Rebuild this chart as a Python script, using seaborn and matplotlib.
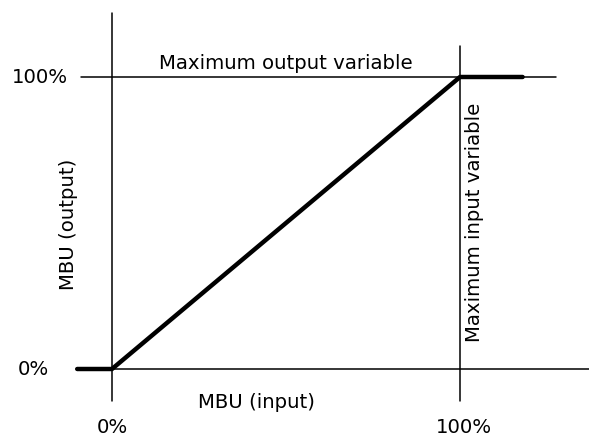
import numpy as np
import pandas as pd
import seaborn as sns
import matplotlib.pyplot as plt

# transfer curve: MBU input vs MBU output (fraction of maximum)
mbu_input = [-0.1, 0.0, 1.0, 1.18]
mbu_output = [0.0, 0.0, 1.0, 1.0]

# reference lines (0% and 100% levels) and how far they are drawn
ref_levels = [0.0, 1.0]
hline_x_from = [-0.1, -0.09]
hline_x_to = [1.38, 1.276]
vline_y_from = [-0.11, -0.11]
vline_y_to = [1.22, 1.106]

tick_labels = ["0%", "100%"]

sns.set_style("white")
plt.rcParams['font.family'] = ['DejaVu Sans']
plt.rcParams['text.color'] = 'black'

fig = plt.figure(figsize=(5.89, 4.39), dpi=100)
ax = fig.add_axes([0, 0, 1, 1])

# reference grid lines
for lvl, x0, x1 in zip(ref_levels, hline_x_from, hline_x_to):
    ax.plot([x0, x1], [lvl, lvl], color="black", lw=1.1)
for lvl, y0, y1 in zip(ref_levels, vline_y_from, vline_y_to):
    ax.plot([lvl, lvl], [y0, y1], color="black", lw=1.1)

# the thick transfer line
df = pd.DataFrame({"input": mbu_input, "output": mbu_output})
sns.lineplot(data=df, x="input", y="output", color="black", lw=3.2,
             sort=False, estimator=None, ax=ax)

fs = 14.2
# tick labels
left_x = [-0.227, -0.207]
for lvl, lab, lx in zip(ref_levels, tick_labels, left_x):
    ax.text(lx, lvl, lab, ha="center", va="center", fontsize=fs, color="black")
    ax.text(lvl + 0.012 * lvl, -0.198, lab, ha="center", va="center",
            fontsize=fs, color="black")

ax.text(0.5, 1.05, "Maximum output variable", ha="center", va="center",
        fontsize=fs, color="black")
ax.text(1.043, 0.507, "Maximum input variable", ha="center", va="center",
        rotation=90, fontsize=fs, color="black")
ax.text(0.416, -0.11, "MBU (input)", ha="center", va="center",
        fontsize=fs, color="black")
ax.text(-0.125, 0.5, "MBU (output)", ha="center", va="center",
        rotation=90, fontsize=fs, color="black")

ax.set_xlim(-0.3218, 1.3707)
ax.set_ylim(-0.2363, 1.2671)
ax.axis("off")

fig.savefig("out.png", dpi=100)
